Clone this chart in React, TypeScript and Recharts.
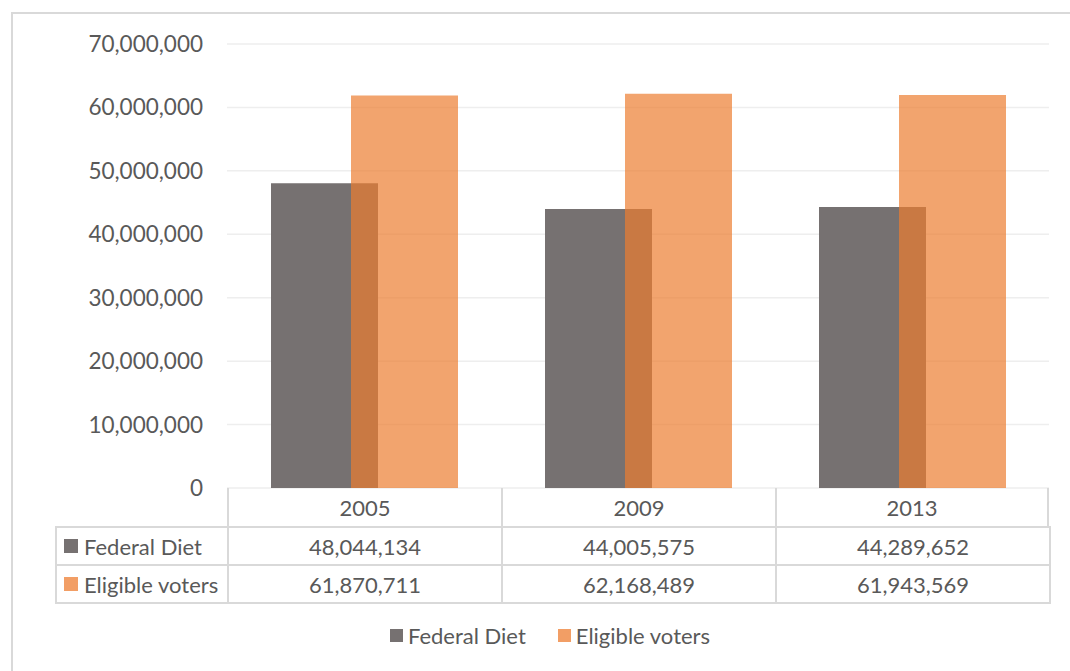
import { BarChart, Bar, XAxis, YAxis, CartesianGrid } from 'recharts';

const years = ['2005', '2009', '2013'];
const federalDiet = [48044134, 44005575, 44289652];
const eligibleVoters = [61870711, 62168489, 61943569];
const yTicks = [0, 10000000, 20000000, 30000000, 40000000, 50000000, 60000000, 70000000];

const series = [
  { key: 'federal', name: 'Federal Diet', values: federalDiet, color: '#767171', opacity: 1 },
  { key: 'eligible', name: 'Eligible voters', values: eligibleVoters, color: '#ED7D31', opacity: 0.7 },
];

const data = years.map((y, i) => ({ year: y, federal: federalDiet[i], eligible: eligibleVoters[i] }));

const fmt = (v: number) => v.toLocaleString('en-US');

const FONT = 'Lato, "Open Sans", sans-serif';
const TEXT = '#595959';
const LINE = '#d9d9d9';

// table geometry (matches the plot area)
const plotLeft = 227;
const plotRight = 1049;
const colW = (plotRight - plotLeft) / years.length;
const headTop = 488;
const rowH = 38;

export default function App() {
  return (
    <div style={{ position: 'absolute', left: 0, top: 0, width: 1070, height: 671, background: '#fff', fontFamily: FONT, color: TEXT }}>
      <div style={{ position: 'absolute', left: 11, top: 12, width: 1070, height: 670, border: `2px solid ${LINE}`, boxSizing: 'border-box' }} />
      <div style={{ position: 'absolute', left: 0, top: 0 }}>
        <BarChart width={1070} height={671} data={data} margin={{ top: 44, right: 21, bottom: 183, left: 0 }} barSize={107} barGap={-27}>
          <CartesianGrid vertical={false} stroke="#eeeeee" strokeWidth={1.5} />
          <XAxis dataKey="year" tick={false} height={0} axisLine={{ stroke: LINE, strokeWidth: 2 }} tickLine={false} />
          <YAxis
            width={227}
            domain={[0, 70000000]}
            ticks={yTicks}
            tickFormatter={fmt}
            axisLine={false}
            tickLine={false}
            tickMargin={18}
            tick={{ fill: TEXT, fontSize: 22.5, fontFamily: FONT }}
          />
          {series.map((s) => (
            <Bar key={s.key} dataKey={s.key} name={s.name} fill={s.color} fillOpacity={s.opacity} isAnimationActive={false} />
          ))}
        </BarChart>
      </div>

      {/* data table */}
      {years.map((y, i) => (
        <div
          key={y}
          style={{
            position: 'absolute', left: plotLeft + i * colW, top: headTop, width: colW, height: rowH,
            borderLeft: `2px solid ${LINE}`, borderRight: i === years.length - 1 ? `2px solid ${LINE}` : 'none',
            boxSizing: 'border-box', display: 'flex', alignItems: 'center', justifyContent: 'center', fontSize: 22,
          }}
        >
          {y}
        </div>
      ))}
      {series.map((s, r) => (
        <div key={s.key}>
          <div
            style={{
              position: 'absolute', left: 55, top: headTop + rowH * (r + 1), width: plotLeft - 55 + 2, height: rowH + 2,
              border: `2px solid ${LINE}`, boxSizing: 'border-box', display: 'flex', alignItems: 'center', fontSize: 22, paddingLeft: 7,
            }}
          >
            <span style={{ display: 'inline-block', width: 14, height: 14, background: s.color, opacity: s.key === 'eligible' ? 0.75 : 1, marginRight: 6 }} />
            {s.name}
          </div>
          {s.values.map((v, i) => (
            <div
              key={i}
              style={{
                position: 'absolute', left: plotLeft + i * colW, top: headTop + rowH * (r + 1), width: colW + 2, height: rowH + 2,
                border: `2px solid ${LINE}`, boxSizing: 'border-box', display: 'flex', alignItems: 'center', justifyContent: 'center', fontSize: 22,
              }}
            >
              {fmt(v)}
            </div>
          ))}
        </div>
      ))}

      {/* legend */}
      <div style={{ position: 'absolute', left: 0, top: 622, width: 1070, display: 'flex', justifyContent: 'center', gap: 32, fontSize: 22, paddingLeft: 30, boxSizing: 'border-box' }}>
        {series.map((s) => (
          <div key={s.key} style={{ display: 'flex', alignItems: 'center' }}>
            <span style={{ display: 'inline-block', width: 13, height: 13, background: s.color, opacity: s.key === 'eligible' ? 0.75 : 1, marginRight: 5 }} />
            {s.name}
          </div>
        ))}
      </div>
    </div>
  );
}
